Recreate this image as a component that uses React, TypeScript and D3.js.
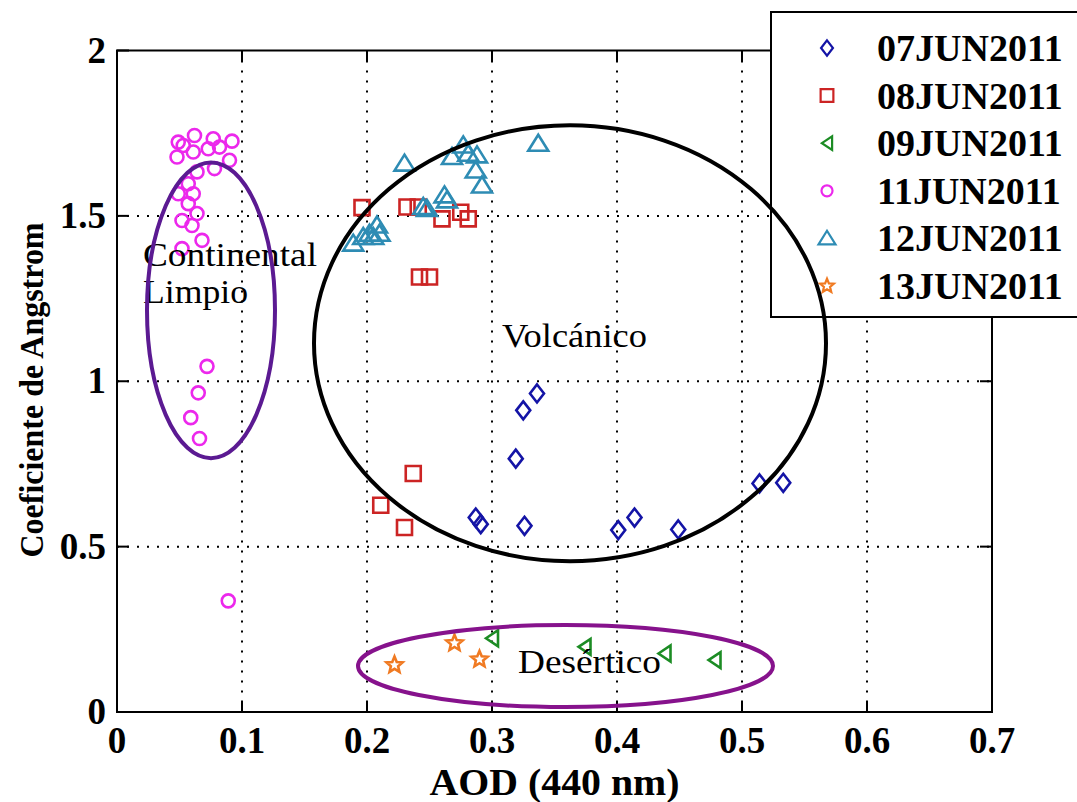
import React from 'react';
import * as d3 from 'd3';

const W = 1077;
const H = 802;
const plot = { left: 117, right: 992, top: 50.5, bottom: 712 };

const xTicks = [0, 0.1, 0.2, 0.3, 0.4, 0.5, 0.6, 0.7];
const xTickLabels = ['0', '0.1', '0.2', '0.3', '0.4', '0.5', '0.6', '0.7'];
const yTicks = [0, 0.5, 1, 1.5, 2];
const yTickLabels = ['0', '0.5', '1', '1.5', '2'];

// 07JUN2011
const aod07 = [0.336, 0.325, 0.319, 0.287, 0.291, 0.326, 0.401, 0.414, 0.449, 0.514, 0.533];
const ang07 = [0.963, 0.912, 0.766, 0.588, 0.568, 0.563, 0.55, 0.588, 0.552, 0.691, 0.693];
// 08JUN2011
const aod08 = [0.196, 0.232, 0.241, 0.26, 0.275, 0.281, 0.242, 0.25, 0.237, 0.211, 0.23];
const ang08 = [1.525, 1.527, 1.527, 1.491, 1.511, 1.491, 1.315, 1.315, 0.721, 0.625, 0.558];
// 09JUN2011
const aod09 = [0.3, 0.374, 0.438, 0.478];
const ang09 = [0.223, 0.197, 0.177, 0.157];
// 11JUN2011
const aod11 = [0.062, 0.049, 0.077, 0.092, 0.048, 0.061, 0.073, 0.082, 0.09, 0.078, 0.053,
  0.064, 0.057, 0.049, 0.061, 0.057, 0.064, 0.052, 0.06, 0.068, 0.052,
  0.072, 0.065, 0.059, 0.066, 0.089];
const ang11 = [1.743, 1.723, 1.733, 1.726, 1.678, 1.693, 1.703, 1.708, 1.668, 1.643, 1.713,
  1.633, 1.597, 1.567, 1.567, 1.537, 1.507, 1.486, 1.471, 1.426, 1.401,
  1.045, 0.965, 0.89, 0.827, 0.336];
// 12JUN2011
const aod12 = [0.23, 0.337, 0.277, 0.268, 0.281, 0.288, 0.287, 0.292, 0.262, 0.264, 0.245,
  0.248, 0.208, 0.202, 0.197, 0.189, 0.205, 0.21];
const ang12 = [1.658, 1.718, 1.713, 1.678, 1.688, 1.683, 1.637, 1.592, 1.562, 1.547, 1.527,
  1.521, 1.471, 1.446, 1.436, 1.416, 1.436, 1.446];
// 13JUN2011
const aod13 = [0.222, 0.27, 0.29];
const ang13 = [0.142, 0.208, 0.159];

const legendLabels = ['07JUN2011', '08JUN2011', '09JUN2011', '11JUN2011', '12JUN2011', '13JUN2011'];
const seriesColors = ['#1414a6', '#cc2424', '#1c8c24', '#ec28ec', '#2e8cb4', '#f07a22'];
const seriesShapes = ['diamond', 'square', 'triangleLeft', 'circle', 'triangleUp', 'star'];

// regions: centre aod, centre angstrom, half-width aod, half-height angstrom
const regionNames = ['Continental', 'Volcánico', 'Desértico'];
const regionCx = [0.0752, 0.3624, 0.3588];
const regionCy = [1.2145, 1.115, 0.139];
const regionRx = [0.0512, 0.2048, 0.166];
const regionRy = [0.447, 0.659, 0.124];
const regionColors = ['#5b1a92', '#000000', '#86128c'];

const FONT = "'Liberation Serif', 'Times New Roman', serif";

const starPath = (R: number, r: number) => {
  const pts = d3.range(10).map(i => {
    const a = -Math.PI / 2 + (i * Math.PI) / 5;
    const rad = i % 2 === 0 ? R : r;
    return [rad * Math.cos(a), rad * Math.sin(a)];
  });
  return 'M' + pts.map(p => p.join(',')).join('L') + 'Z';
};

function Marker({ shape, color, x, y, k = 1 }) {
  const sw = 2.6;
  const common = { fill: 'none', stroke: color, strokeWidth: sw, transform: `translate(${x},${y}) scale(${k})` };
  switch (shape) {
    case 'diamond':
      return <path d="M0,-9L7,0L0,9L-7,0Z" {...common} />;
    case 'square':
      return <path d="M-7.5,-7.5H7.5V7.5H-7.5Z" {...common} />;
    case 'triangleLeft':
      return <path d="M-6,0L6,-8L6,8Z" {...common} />;
    case 'circle':
      return <circle r={6.5} {...common} />;
    case 'triangleUp':
      return <path d="M0,-9L10,7L-10,7Z" {...common} />;
    case 'star':
      return <path d={starPath(8.5, 3.8)} {...common} />;
    default:
      return null;
  }
}

export default function App() {
  const x = d3.scaleLinear().domain([0, 0.7]).range([plot.left, plot.right]);
  const y = d3.scaleLinear().domain([0, 2]).range([plot.bottom, plot.top]);

  const series = [
    [aod07, ang07], [aod08, ang08], [aod09, ang09],
    [aod11, ang11], [aod12, ang12], [aod13, ang13],
  ];

  const legend = { x: 771, y: 12, w: 320, h: 305 };
  const rowY = (i: number) => 48 + i * 47.6;

  return (
    <svg width={W} height={H} style={{ position: 'absolute', left: 0, top: 0, background: '#fff' }}
      fontFamily={FONT}>
      <rect x={0} y={0} width={W} height={H} fill="#fff" />

      {/* grid */}
      <g stroke="#000" strokeWidth={2} strokeDasharray="2 8">
        {xTicks.slice(1, -1).map(t => (
          <line key={'gx' + t} x1={x(t)} x2={x(t)} y1={plot.top} y2={plot.bottom} />
        ))}
        {yTicks.slice(1, -1).map(t => (
          <line key={'gy' + t} x1={plot.left} x2={plot.right} y1={y(t)} y2={y(t)} />
        ))}
      </g>

      {/* ticks */}
      <g stroke="#000" strokeWidth={2}>
        {xTicks.map(t => (
          <g key={'tx' + t}>
            <line x1={x(t)} x2={x(t)} y1={plot.bottom} y2={plot.bottom - 11} />
            <line x1={x(t)} x2={x(t)} y1={plot.top} y2={plot.top + 11} />
          </g>
        ))}
        {yTicks.map(t => (
          <g key={'ty' + t}>
            <line x1={plot.left} x2={plot.left + 12} y1={y(t)} y2={y(t)} />
            <line x1={plot.right} x2={plot.right - 12} y1={y(t)} y2={y(t)} />
          </g>
        ))}
      </g>

      <rect x={plot.left} y={plot.top} width={plot.right - plot.left} height={plot.bottom - plot.top}
        fill="none" stroke="#000" strokeWidth={2} />

      {/* tick labels */}
      <g fontWeight="bold" fontSize={37} fill="#000">
        {xTicks.map((t, i) => (
          <text key={'lx' + t} x={x(t)} y={753} textAnchor="middle">{xTickLabels[i]}</text>
        ))}
        {yTicks.map((t, i) => (
          <text key={'ly' + t} x={106} y={y(t) + 12} textAnchor="end">{yTickLabels[i]}</text>
        ))}
      </g>

      {/* axis titles */}
      <text x={(plot.left + plot.right) / 2} y={795} textAnchor="middle" fontWeight="bold" fontSize={37}
        textLength={250} lengthAdjust="spacingAndGlyphs">
        AOD (440 nm)
      </text>
      <text transform="translate(43,390) rotate(-90)" textAnchor="middle" fontWeight="bold" fontSize={34}
        textLength={335} lengthAdjust="spacingAndGlyphs">
        Coeficiente de Angstrom
      </text>

      {/* markers */}
      {series.map(([xs, ys], si) => (
        <g key={'s' + si}>
          {xs.map((v, j) => (
            <Marker key={j} shape={seriesShapes[si]} color={seriesColors[si]} x={x(v)} y={y(ys[j])} />
          ))}
        </g>
      ))}

      {/* region labels */}
      <g fontSize={33} fill="#000">
        <text x={143} y={266} textLength={174} lengthAdjust="spacingAndGlyphs">{regionNames[0]}</text>
        <text x={143} y={303} textLength={105} lengthAdjust="spacingAndGlyphs">Limpio</text>
        <text x={502} y={347} textLength={145} lengthAdjust="spacingAndGlyphs">{regionNames[1]}</text>
        <text x={518} y={673} textLength={143} lengthAdjust="spacingAndGlyphs">{regionNames[2]}</text>
      </g>

      {/* legend */}
      <rect x={legend.x} y={legend.y} width={legend.w} height={legend.h} fill="#fff" stroke="#000" strokeWidth={2} />
      {legendLabels.map((lab, i) => (
        <g key={lab}>
          <Marker shape={seriesShapes[i]} color={seriesColors[i]} x={827} y={rowY(i)} k={0.85} />
          <text x={877} y={rowY(i) + 13} fontWeight="bold" fontSize={38}>{lab}</text>
        </g>
      ))}

      {/* region ellipses */}
      {regionCx.map((c, i) => (
        <ellipse key={'e' + i} cx={x(c)} cy={y(regionCy[i])}
          rx={x(c + regionRx[i]) - x(c)} ry={y(regionCy[i] - regionRy[i]) - y(regionCy[i])}
          fill="none" stroke={regionColors[i]} strokeWidth={4} />
      ))}
    </svg>
  );
}
